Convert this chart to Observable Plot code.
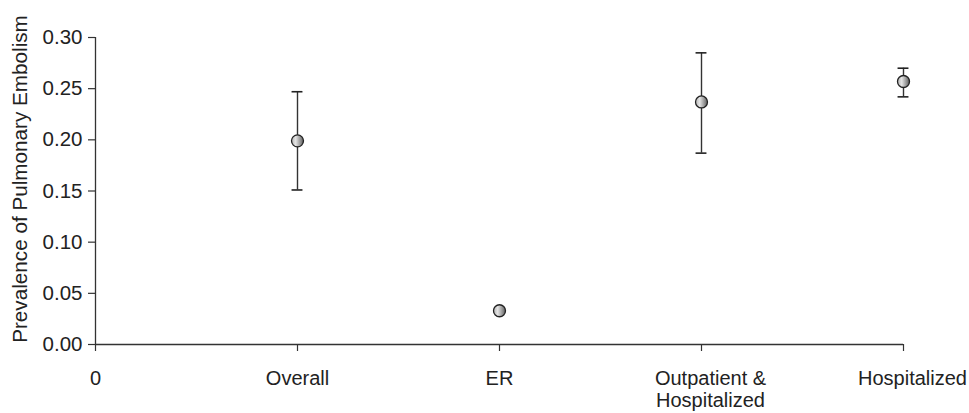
<!DOCTYPE html>
<html>
<head>
<meta charset="utf-8">
<script src="https://cdn.jsdelivr.net/npm/d3@7"></script>
<script src="https://cdn.jsdelivr.net/npm/@observablehq/plot@0.6"></script>
<style>
  body { margin: 0; background: #fff; }
  svg { font-family: "Liberation Sans", Arial, sans-serif; }
</style>
</head>
<body>
<div id="chart"></div>
<script>
const tickLabels = ["0", "Overall", "ER", "Outpatient &\nHospitalized", "Hospitalized"];
const categories = ["Overall", "ER", "Outpatient & Hospitalized", "Hospitalized"];
const positions = [1, 2, 3, 4];
const prevalence = [0.199, 0.033, 0.237, 0.257];
const lower = [0.151, 0.032, 0.187, 0.242];
const upper = [0.247, 0.034, 0.285, 0.270];
const yTicks = [0, 0.05, 0.10, 0.15, 0.20, 0.25, 0.30];
const yLabel = "Prevalence of Pulmonary Embolism";

const data = categories.map((c, i) => ({
  category: c, x: positions[i], y: prevalence[i], lo: lower[i], hi: upper[i]
}));
const capHalf = 0.027;

const chart = Plot.plot({
  width: 969,
  height: 413,
  marginLeft: 95,
  marginRight: 66,
  marginTop: 37,
  marginBottom: 69,
  style: { fontSize: "20px", color: "#222", fontFamily: "'Liberation Sans', Arial, sans-serif", background: "#fff" },
  x: { type: "linear", domain: [0, 4] },
  y: { type: "linear", domain: [0, 0.30] },
  marks: [
    Plot.axisY({
      ticks: yTicks,
      tickFormat: d3.format(".2f"),
      tickSize: 7,
      tickPadding: 6,
      stroke: "#333",
      strokeWidth: 1.2,
      label: null,
      fontSize: 20.5
    }),
    // tick lines for every position, labels for the left three
    Plot.axisX({
      ticks: [0, 1, 2, 3, 4],
      tickFormat: (d) => (d < 3 ? tickLabels[d] : ""),
      tickSize: 7,
      tickPadding: 17,
      stroke: "#333",
      strokeWidth: 1.2,
      label: null,
      fontSize: 20,
      lineHeight: 1.13
    }),
    // labels of the right two sit slightly right of their ticks
    Plot.axisX({
      ticks: [3, 4],
      tickFormat: (d) => tickLabels[d],
      tickSize: 0,
      tickPadding: 24,
      dx: 9,
      label: null,
      fontSize: 20,
      lineHeight: 1.13
    }),
    Plot.text([yLabel], {
      frameAnchor: "left",
      textAnchor: "middle",
      rotate: -90,
      dx: -75,
      dy: -12,
      fontSize: 20.7,
      fill: "#222"
    }),
    Plot.ruleY([0], { x1: 0, x2: 4, stroke: "#333", strokeWidth: 1.3 }),
    Plot.ruleX([0], { y1: 0, y2: 0.30, stroke: "#333", strokeWidth: 1.3 }),
    Plot.ruleX(data, { x: "x", y1: "lo", y2: "hi", stroke: "#333", strokeWidth: 1.4 }),
    Plot.ruleY(data, { y: "hi", x1: (d) => d.x - capHalf, x2: (d) => d.x + capHalf, stroke: "#222", strokeWidth: 1.6 }),
    Plot.ruleY(data, { y: "lo", x1: (d) => d.x - capHalf, x2: (d) => d.x + capHalf, stroke: "#222", strokeWidth: 1.6 }),
    Plot.dot(data, { x: "x", y: "y", r: 6, fill: "url(#dotGrad)", stroke: "#222", strokeWidth: 1.3 })
  ]
});

document.getElementById("chart").appendChild(chart);

const defs = d3.select(chart).insert("defs", ":first-child");
const g = defs.append("linearGradient").attr("id", "dotGrad")
  .attr("x1", "0%").attr("y1", "0%").attr("x2", "100%").attr("y2", "0%");
g.append("stop").attr("offset", "0%").attr("stop-color", "#b5b5b5");
g.append("stop").attr("offset", "35%").attr("stop-color", "#e4e4e4");
g.append("stop").attr("offset", "100%").attr("stop-color", "#5e5e5e");
</script>
</body>
</html>
